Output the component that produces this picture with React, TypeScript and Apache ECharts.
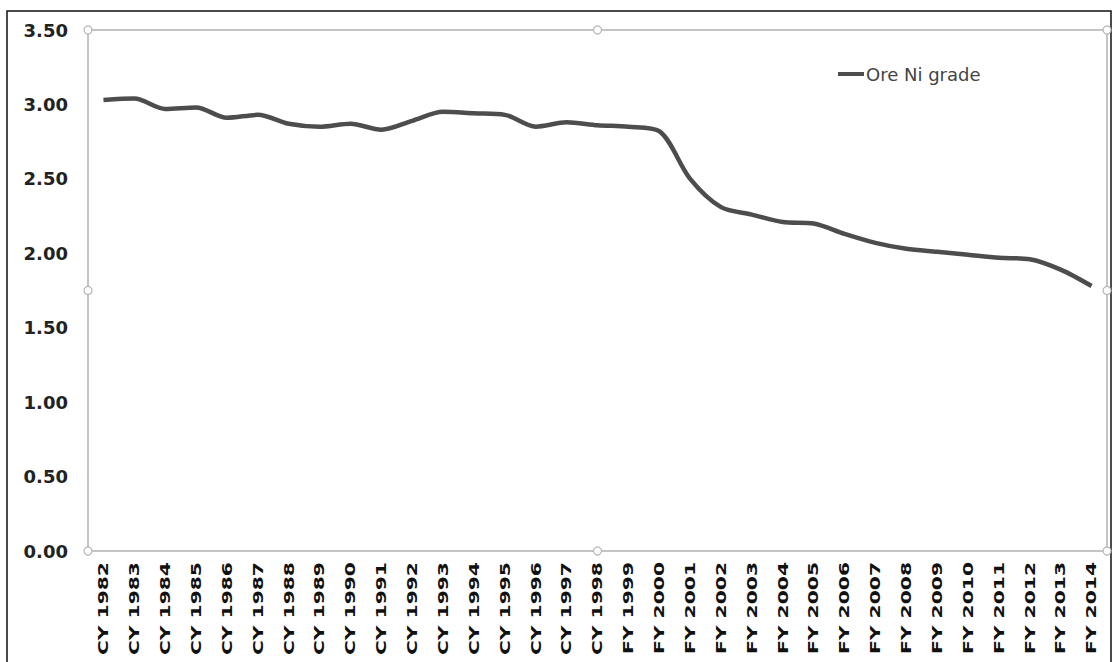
import React, { useEffect, useRef } from "react";
import * as echarts from "echarts";

const categories: string[] = [
  "CY 1982", "CY 1983", "CY 1984", "CY 1985", "CY 1986", "CY 1987", "CY 1988",
  "CY 1989", "CY 1990", "CY 1991", "CY 1992", "CY 1993", "CY 1994", "CY 1995",
  "CY 1996", "CY 1997", "CY 1998", "FY 1999", "FY 2000", "FY 2001", "FY 2002",
  "FY 2003", "FY 2004", "FY 2005", "FY 2006", "FY 2007", "FY 2008", "FY 2009",
  "FY 2010", "FY 2011", "FY 2012", "FY 2013", "FY 2014",
];

const oreNiGrade: number[] = [
  3.03, 3.04, 2.97, 2.98, 2.91, 2.93, 2.87, 2.85, 2.87, 2.83, 2.89, 2.95,
  2.94, 2.93, 2.85, 2.88, 2.86, 2.85, 2.82, 2.50, 2.31, 2.26, 2.21, 2.20,
  2.13, 2.07, 2.03, 2.01, 1.99, 1.97, 1.96, 1.89, 1.78,
];

const seriesName = "Ore Ni grade";
const yTicks = { min: 0, max: 3.5, interval: 0.5 };

const GL = 88;
const GR = 1107;
const GT = 30;
const GB = 551;

export default function App() {
  const ref = useRef<HTMLDivElement>(null);
  useEffect(() => {
    if (!ref.current) return;
    const chart = echarts.init(ref.current, null, { renderer: "svg" });
    const midX = (GL + GR) / 2;
    const midY = (GT + GB) / 2;
    const handlePts = [
      [GL, GT], [midX, GT], [GR, GT],
      [GL, midY], [GR, midY],
      [GL, GB], [midX, GB], [GR, GB],
    ];
    chart.setOption({
      animation: false,
      backgroundColor: "#ffffff",
      grid: {
        left: GL,
        right: 1114 - GR,
        top: GT,
        bottom: 662 - GB,
        show: true,
        borderColor: "#c4c4c4",
        borderWidth: 2,
        backgroundColor: "transparent",
      },
      legend: {
        data: [seriesName],
        left: 833,
        top: 60,
        icon: "rect",
        itemWidth: 26,
        itemHeight: 4,
        itemGap: 4,
        textStyle: {
          fontFamily: "DejaVu Sans",
          fontSize: 18,
          color: "#444",
          padding: [0, 0, 0, -3],
        },
      },
      xAxis: {
        type: "category",
        data: categories,
        boundaryGap: true,
        axisLine: { show: false },
        axisTick: { show: false },
        axisLabel: { show: false },
        splitLine: { show: false },
      },
      yAxis: {
        type: "value",
        min: yTicks.min,
        max: yTicks.max,
        interval: yTicks.interval,
        axisLine: { show: false },
        axisTick: { show: false },
        splitLine: { show: false },
        axisLabel: {
          margin: 20,
          formatter: (v: number) => v.toFixed(2),
          fontFamily: "DejaVu Sans",
          fontWeight: "bold",
          fontSize: 18,
          color: "#222",
        },
      },
      series: [
        {
          name: seriesName,
          type: "line",
          data: oreNiGrade,
          symbol: "none",
          smooth: 0.3,
          lineStyle: { color: "#4d4d4d", width: 4.5 },
          itemStyle: { color: "#4d4d4d" },
          z: 3,
        },
        {
          name: "xlabels",
          type: "custom",
          clip: false,
          silent: true,
          data: categories.map((_, i) => [i, 0]),
          renderItem: (_params: any, api: any) => {
            const idx = api.value(0);
            const p = api.coord([idx, 0]);
            return {
              type: "text",
              x: p[0],
              y: p[1] + 11,
              rotation: Math.PI / 2,
              scaleX: 1.45,
              style: {
                text: categories[idx],
                fill: "#111",
                fontSize: 14,
                fontWeight: "bold",
                fontFamily: "DejaVu Sans",
                align: "right",
                verticalAlign: "middle",
              },
            };
          },
          z: 5,
        },
      ],
      graphic: [
        {
          type: "rect",
          shape: { x: 7, y: 11, width: 1104, height: 670 },
          style: { fill: "none", stroke: "#111", lineWidth: 1.5 },
          silent: true,
          z: 10,
        },
        ...handlePts.map((pt) => ({
          type: "circle",
          shape: { cx: pt[0], cy: pt[1], r: 4 },
          style: { fill: "#fff", stroke: "#b5b5b5", lineWidth: 1.2 },
          silent: true,
          z: 10,
        })),
      ],
    });
    return () => chart.dispose();
  }, []);
  return (
    <div
      ref={ref}
      style={{ position: "fixed", left: 0, top: 0, width: 1114, height: 662 }}
    />
  );
}
